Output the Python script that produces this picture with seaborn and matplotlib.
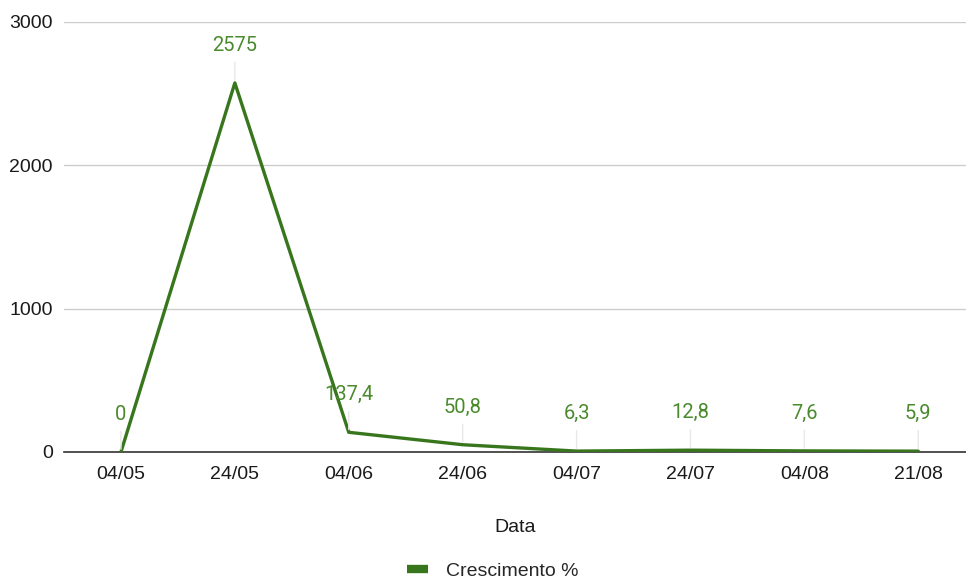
import matplotlib
matplotlib.use("Agg")
import matplotlib.pyplot as plt
from matplotlib.lines import Line2D
import seaborn as sns
import pandas as pd

datas = ["04/05", "24/05", "04/06", "24/06", "04/07", "24/07", "04/08", "21/08"]
crescimento = [0, 2575, 137.4, 50.8, 6.3, 12.8, 7.6, 5.9]
rotulos = ["0", "2575", "137,4", "50,8", "6,3", "12,8", "7,6", "5,9"]
y_ticks = [0, 1000, 2000, 3000]

verde = "#38761d"
verde_texto = "#4a8a2c"

sns.set_theme(style="white")
plt.rcParams["font.family"] = ["Liberation Sans", "DejaVu Sans"]

df = pd.DataFrame({"Data": datas, "Crescimento %": crescimento})
pos = list(range(len(datas)))

fig = plt.figure(figsize=(9.66, 5.81), dpi=100)
ax = fig.add_axes([64 / 966, 1 - 452 / 581, 1 - 64 / 966, (452 - 22) / 581])

sns.lineplot(x=pos, y=df["Crescimento %"], ax=ax, color=verde, linewidth=2.4,
             sort=False, legend=False, zorder=3)

ax.set_ylim(0, 3000)
ax.set_xlim(-0.5, (966 - 121) / 113.9)
ax.set_yticks(y_ticks)
ax.set_yticklabels([str(t) for t in y_ticks], fontsize=14, color="#1a1a1a")
ax.set_xticks(pos)
ax.set_xticklabels(datas, fontsize=14, color="#1a1a1a")
ax.tick_params(axis="x", length=0, pad=10)
ax.tick_params(axis="y", length=0, pad=8)

ax.yaxis.grid(True, color="#cccccc", linewidth=1)
ax.set_axisbelow(True)
for s in ["top", "right", "left"]:
    ax.spines[s].set_visible(False)
ax.spines["bottom"].set_color("#333333")
ax.spines["bottom"].set_linewidth(1.2)
ax.spines["bottom"].set_zorder(2)

for x, y, txt in zip(pos, crescimento, rotulos):
    ax.annotate(txt, xy=(x, y), xytext=(0, 27), textcoords="offset points",
                ha="center", va="center", fontsize=14.5, color=verde_texto,
                family=["Roboto", "DejaVu Sans"], zorder=4,
                arrowprops=dict(arrowstyle="-", color="#e8e8e8", lw=1,
                                shrinkA=3, shrinkB=2))

ax.set_xlabel("Data", fontsize=14, color="#1a1a1a", labelpad=26)
ax.set_ylabel("")

handle = Line2D([0], [0], color=verde, linewidth=6, solid_capstyle="butt")
fig.legend([handle], ["Crescimento %"], loc="lower center",
           bbox_to_anchor=(0.51, -0.028), frameon=False, fontsize=14,
           handlelength=1.1, handletextpad=0.9)

fig.savefig("out.png", dpi=100, facecolor="white")
